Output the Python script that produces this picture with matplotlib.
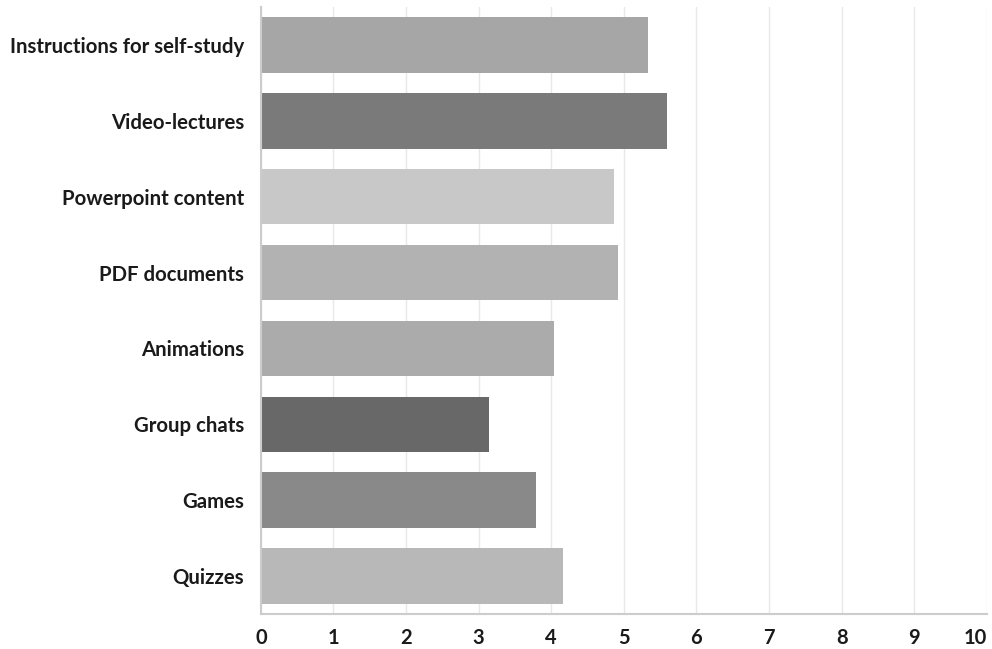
import matplotlib
matplotlib.use("Agg")
import matplotlib.pyplot as plt

categories = ["Instructions for self-study", "Video-lectures", "Powerpoint content",
              "PDF documents", "Animations", "Group chats", "Games", "Quizzes"]
values = [5.33, 5.59, 4.86, 4.92, 4.04, 3.14, 3.79, 4.16]
colors = ["#a6a6a6", "#7a7a7a", "#c8c8c8", "#b2b2b2", "#ababab", "#686868", "#898989", "#b8b8b8"]
xticks = list(range(0, 11))

plt.rcParams['font.family'] = ['Lato', 'DejaVu Sans']

fig = plt.figure(figsize=(9.92, 6.49), dpi=100)
ax = fig.add_axes([0.263, 0.054, 0.7317, 0.935])

ypos = list(range(len(categories)))
ax.barh(ypos, values, height=0.73, color=colors, zorder=2)

ax.set_xlim(0, 10)
ax.set_ylim(len(categories) - 0.5, -0.5)
ax.set_yticks(ypos)
ax.set_yticklabels(categories, fontsize=14.7, fontweight='bold', color='#1a1a1a')
ax.set_xticks(xticks)
ax.set_xticklabels([str(t) for t in xticks], fontsize=14.5, fontweight='bold', color='#1a1a1a')
ax.get_xticklabels()[-1].set_horizontalalignment('right')
ax.tick_params(axis='y', length=0, pad=12)
ax.tick_params(axis='x', length=0, pad=10)

ax.grid(axis='x', color='#e8e8e8', linewidth=1, zorder=0)
for side in ['top', 'right']:
    ax.spines[side].set_visible(False)
for side in ['left', 'bottom']:
    ax.spines[side].set_color('#cccccc')
    ax.spines[side].set_linewidth(1.5)

fig.savefig("out.png", dpi=100)
